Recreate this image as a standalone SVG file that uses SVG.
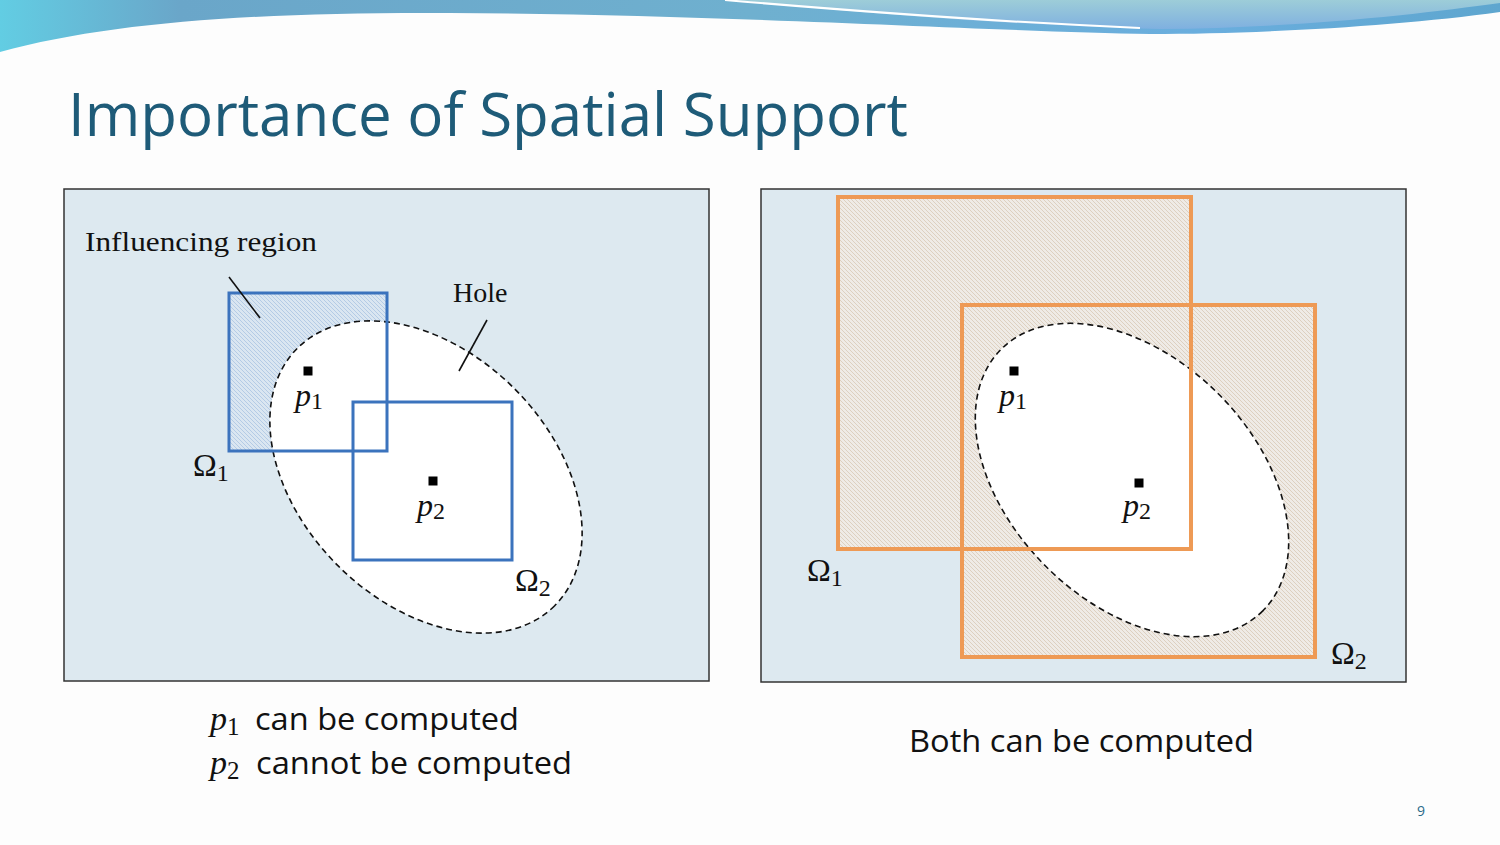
<svg xmlns="http://www.w3.org/2000/svg" width="1500" height="845" viewBox="0 0 1500 845">
<style>
.frame{fill:#dde9f0;stroke:#333;stroke-width:1.5}
.hole{fill:#fff;stroke:#111;stroke-width:1.6;stroke-dasharray:6 4}
.sqb{fill:none;stroke:#3b73bd;stroke-width:3}
.sqo{fill:none;stroke:#ee9a55;stroke-width:4}
.pt{fill:#000}
.m{font-family:"Liberation Serif",serif;font-size:32px;fill:#111}
.mi{font-style:italic}
.sub{font-size:24px}
.lbl{font-family:"Liberation Serif",serif;font-size:28px;fill:#111}
.cap{font-family:"Open Sans","Liberation Sans",sans-serif;font-size:31px;fill:#111}
.lead{stroke:#111;stroke-width:1.6}
</style>
<defs>
<pattern id="hb" patternUnits="userSpaceOnUse" width="4" height="4">
<rect width="4" height="4" fill="#dae6f1"/>
<path d="M-1,-1 L5,5 M-1,3 L1,5 M3,-1 L5,1" stroke="#abc4e2" stroke-width="0.8"/>
</pattern>
<pattern id="ho" patternUnits="userSpaceOnUse" width="4" height="4">
<rect width="4" height="4" fill="#efebe6"/>
<path d="M-1,-1 L5,5 M-1,3 L1,5 M3,-1 L5,1" stroke="#d8c9b6" stroke-width="0.8"/>
</pattern>
<linearGradient id="wave" x1="0" y1="0" x2="1" y2="0">
<stop offset="0" stop-color="#62cde3"/>
<stop offset="0.12" stop-color="#6aa6c9"/>
<stop offset="0.5" stop-color="#6fb0cf"/>
<stop offset="0.8" stop-color="#6aaede"/>
<stop offset="1" stop-color="#5ea6cf"/>
</linearGradient>
<linearGradient id="wave2" x1="0" y1="0" x2="0" y2="1">
<stop offset="0" stop-color="#9dcdd8"/>
<stop offset="1" stop-color="#7fb0e0"/>
</linearGradient>
</defs>
<rect width="1500" height="845" fill="#fdfdfd"/>
<g id="header">
<path d="M0,0 H1500 V12 C1400,26 1260,34 1150,34 C1000,32 720,14 450,13 C260,12 110,22 0,52 Z" fill="url(#wave)"/>
<path d="M735,0 C850,12 1000,25 1160,29 C1300,28 1420,14 1500,3 V0 Z" fill="url(#wave2)"/>
<path d="M725,0 C830,9 980,21 1140,28" fill="none" stroke="#ffffff" stroke-width="2"/>
</g>
<text id="title" x="68" y="136" font-family="Open Sans, Liberation Sans, sans-serif" font-size="61" fill="#1e5b78" textLength="840" lengthAdjust="spacingAndGlyphs">Importance of Spatial Support</text>

<g id="left-panel">
<rect class="frame" x="64" y="189" width="645" height="492"/>
<rect x="229" y="293" width="158" height="158" fill="url(#hb)"/>
<ellipse id="hole-left" class="hole" cx="426" cy="477" rx="182" ry="125" transform="rotate(45 426 477)"/>
<rect id="omega1-left" class="sqb" x="229" y="293" width="158" height="158"/>
<rect id="omega2-left" class="sqb" x="353" y="402" width="159" height="158"/>
<rect class="pt" x="303.5" y="366.5" width="9" height="9"/>
<rect class="pt" x="428.5" y="476.5" width="9" height="9"/>
<text class="m" x="295" y="406"><tspan class="mi">p</tspan><tspan class="sub" dy="3">1</tspan></text>
<text class="m" x="417" y="516"><tspan class="mi">p</tspan><tspan class="sub" dy="3">2</tspan></text>
<text class="m" x="193" y="476">Ω<tspan class="sub" dy="5">1</tspan></text>
<text class="m" x="515" y="591">Ω<tspan class="sub" dy="5">2</tspan></text>
<text class="lbl" x="85" y="251" textLength="232" lengthAdjust="spacingAndGlyphs">Influencing region</text>
<text class="lbl" x="453" y="302">Hole</text>
</g>
<g id="connectors">
<line class="lead" x1="229" y1="277" x2="260" y2="318"/>
<line class="lead" x1="487" y1="320" x2="459" y2="371"/>
</g>

<g id="right-panel">
<rect class="frame" x="761" y="189" width="645" height="493"/>
<rect x="838" y="197" width="353" height="352" fill="url(#ho)"/>
<rect x="962" y="305" width="353" height="352" fill="url(#ho)"/>
<ellipse id="hole-right" class="hole" cx="1132" cy="480" rx="185" ry="122" transform="rotate(45 1132 480)"/>
<rect id="omega1-right" class="sqo" x="838" y="197" width="353" height="352"/>
<rect id="omega2-right" class="sqo" x="962" y="305" width="353" height="352"/>
<rect class="pt" x="1009.5" y="366.5" width="9" height="9"/>
<rect class="pt" x="1134.5" y="478.5" width="9" height="9"/>
<text class="m" x="999" y="406"><tspan class="mi">p</tspan><tspan class="sub" dy="3">1</tspan></text>
<text class="m" x="1123" y="516"><tspan class="mi">p</tspan><tspan class="sub" dy="3">2</tspan></text>
<text class="m" x="807" y="581">Ω<tspan class="sub" dy="5">1</tspan></text>
<text class="m" x="1331" y="664">Ω<tspan class="sub" dy="5">2</tspan></text>
</g>

<g id="captions">
<text class="cap" x="210" y="730"><tspan font-family="Liberation Serif, serif" font-style="italic" font-size="34">p</tspan><tspan font-family="Liberation Serif, serif" font-size="25" dy="5">1</tspan><tspan dy="-5" x="255" textLength="264" lengthAdjust="spacingAndGlyphs">can be computed</tspan></text>
<text class="cap" x="210" y="774"><tspan font-family="Liberation Serif, serif" font-style="italic" font-size="34">p</tspan><tspan font-family="Liberation Serif, serif" font-size="25" dy="5">2</tspan><tspan dy="-5" x="256" textLength="316" lengthAdjust="spacingAndGlyphs">cannot be computed</tspan></text>
<text class="cap" x="909" y="752" textLength="345" lengthAdjust="spacingAndGlyphs">Both can be computed</text>
<text x="1421" y="816" font-family="Open Sans, Liberation Sans, sans-serif" font-size="14" fill="#2a6a8a" text-anchor="middle">9</text>
</g>
</svg>
